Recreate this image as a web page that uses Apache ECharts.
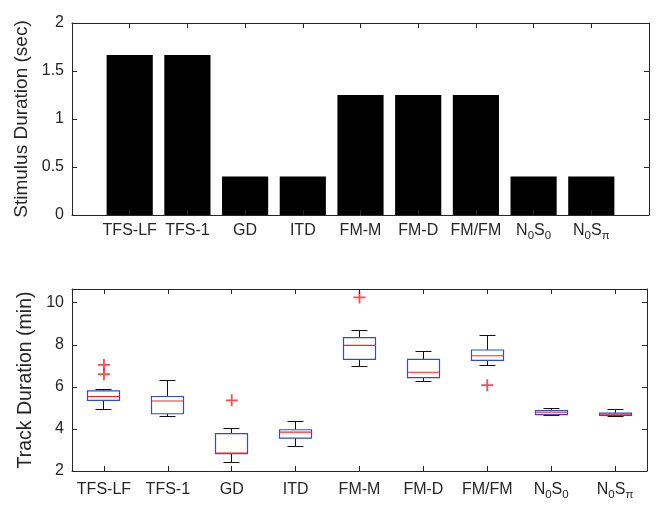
<!DOCTYPE html>
<html>
<head>
<meta charset="utf-8">
<script src="https://cdn.jsdelivr.net/npm/echarts@6/dist/echarts.min.js"></script>
<style>
html,body{margin:0;padding:0;background:#fff;}
#main{width:656px;height:505px;}
</style>
</head>
<body>
<div id="main"></div>
<script>
// ---- data ----
const categories = ['TFS-LF','TFS-1','GD','ITD','FM-M','FM-D','FM/FM','N_0S_0','N_0S_π'];
const stimulusDuration = [1.667,1.667,0.4,0.4,1.25,1.25,1.25,0.4,0.4];
const boxMin    = [4.94,4.60,2.41,3.16,6.96,6.23,7.03,4.65,4.60];
const boxQ1     = [5.36,4.72,2.83,3.56,7.31,6.44,7.26,4.68,4.64];
const boxMedian = [5.54,5.33,2.85,3.85,7.97,6.69,7.48,4.79,4.70];
const boxQ3     = [5.81,5.54,3.78,3.96,8.34,7.31,7.75,4.87,4.75];
const boxMax    = [5.89,6.31,4.03,4.34,8.67,7.69,8.43,4.98,4.92];
const outlierCat   = [0,0,2,4,6];
const outlierValue = [7.04,6.60,5.36,10.25,6.08];
const topYTicks = [0,0.5,1,1.5,2];
const bottomYTicks = [2,4,6,8,10];

const FONT = '"Liberation Sans", Arial, Helvetica, sans-serif';
const AX = '#262626';

function richLabel(label){
  return label.split(/(_.)/).filter(s => s).map(s =>
    s[0] === '_' ? '{s|' + s.slice(1) + '}' : '{n|' + s + '}').join('');
}
const richStyles = {
  n: {fontSize: 16, lineHeight: 18, verticalAlign: 'top', fontFamily: FONT, color: AX},
  s: {fontSize: 11.5, lineHeight: 14, verticalAlign: 'top', padding: [7,0,0,0], fontFamily: FONT, color: AX}
};

const chart = echarts.init(document.getElementById('main'), null, {renderer: 'canvas'});

const barData = stimulusDuration.map((v, i) => [i + 1, v]);
const boxData = categories.map((c, i) => [i, boxMin[i], boxQ1[i], boxMedian[i], boxQ3[i], boxMax[i]]);
const outData = outlierCat.map((c, i) => [c, outlierValue[i]]);

const crisp = v => Math.round(v - 0.5) + 0.5;

const option = {
  animation: false,
  backgroundColor: '#fff',
  grid: [
    {left: 72, right: 7, top: 23, height: 192},
    {left: 72, right: 9, top: 289, height: 182}
  ],
  xAxis: [
    {
      gridIndex: 0, type: 'value', min: 0, max: 10, interval: 1, position: 'bottom', z: 5,
      axisLine: {show: true, onZero: false, lineStyle: {color: AX, width: 1}},
      axisTick: {show: true, inside: true, length: 5, lineStyle: {color: AX}},
      splitLine: {show: false},
      axisLabel: {
        margin: 8, fontSize: 16, fontFamily: FONT, color: AX,
        formatter: v => { const i = Math.round(v) - 1; return (i >= 0 && i < categories.length) ? richLabel(categories[i]) : ''; },
        rich: richStyles
      }
    },
    {
      gridIndex: 0, type: 'value', min: 0, max: 10, interval: 1, position: 'top', z: 5,
      axisLine: {show: true, onZero: false, lineStyle: {color: AX, width: 1}},
      axisTick: {show: true, inside: true, length: 5, lineStyle: {color: AX}},
      splitLine: {show: false}, axisLabel: {show: false}
    },
    {
      gridIndex: 1, type: 'category', data: categories, boundaryGap: true, position: 'bottom', z: 5,
      axisLine: {show: true, onZero: false, lineStyle: {color: AX, width: 1}},
      axisTick: {show: true, inside: true, length: 5, alignWithLabel: true, lineStyle: {color: AX}},
      splitLine: {show: false},
      axisLabel: {margin: 11, fontSize: 16, fontFamily: FONT, color: AX, interval: 0,
        formatter: v => richLabel(v), rich: richStyles}
    },
    {
      gridIndex: 1, type: 'category', data: categories, boundaryGap: true, position: 'top', z: 5,
      axisLine: {show: true, onZero: false, lineStyle: {color: AX, width: 1}},
      axisTick: {show: true, inside: true, length: 5, alignWithLabel: true, lineStyle: {color: AX}},
      splitLine: {show: false}, axisLabel: {show: false}
    }
  ],
  yAxis: [
    {
      gridIndex: 0, type: 'value', min: topYTicks[0], max: topYTicks[topYTicks.length-1], interval: 0.5, position: 'left', z: 5,
      name: 'Stimulus Duration (sec)', nameLocation: 'middle', nameGap: 34,
      nameTextStyle: {fontSize: 19, fontFamily: FONT, color: AX},
      axisLine: {show: true, onZero: false, lineStyle: {color: AX, width: 1}},
      axisTick: {show: true, inside: true, length: 5, lineStyle: {color: AX}},
      splitLine: {show: false},
      axisLabel: {margin: 8, fontSize: 16, fontFamily: FONT, color: AX, formatter: v => String(v)}
    },
    {
      gridIndex: 0, type: 'value', min: topYTicks[0], max: topYTicks[topYTicks.length-1], interval: 0.5, position: 'right', z: 5,
      axisLine: {show: true, onZero: false, lineStyle: {color: AX, width: 1}},
      axisTick: {show: true, inside: true, length: 5, lineStyle: {color: AX}},
      splitLine: {show: false}, axisLabel: {show: false}
    },
    {
      gridIndex: 1, type: 'value', min: bottomYTicks[0], max: 10.65, interval: 2, position: 'left', z: 5,
      name: 'Track Duration (min)', nameLocation: 'middle', nameGap: 30,
      nameTextStyle: {fontSize: 19.5, fontFamily: FONT, color: AX},
      axisLine: {show: true, onZero: false, lineStyle: {color: AX, width: 1}},
      axisTick: {show: true, inside: true, length: 5, lineStyle: {color: AX}},
      splitLine: {show: false},
      axisLabel: {margin: 8, fontSize: 16, fontFamily: FONT, color: AX, showMaxLabel: false,
        formatter: v => bottomYTicks.indexOf(v) >= 0 ? String(v) : ''}
    },
    {
      gridIndex: 1, type: 'value', min: bottomYTicks[0], max: 10.65, interval: 2, position: 'right', z: 5,
      axisLine: {show: true, onZero: false, lineStyle: {color: AX, width: 1}},
      axisTick: {show: true, inside: true, length: 5, lineStyle: {color: AX}},
      splitLine: {show: false}, axisLabel: {show: false}
    }
  ],
  series: [
    {
      type: 'custom', xAxisIndex: 0, yAxisIndex: 0, data: barData,
      encode: {x: 0, y: 1},
      renderItem: (params, api) => {
        const x = api.value(0), v = api.value(1);
        const p1 = api.coord([x - 0.4, v]);
        const p2 = api.coord([x + 0.4, 0]);
        return {type: 'rect', shape: {x: p1[0], y: p1[1], width: p2[0] - p1[0], height: p2[1] - p1[1]},
          style: {fill: '#000'}};
      }
    },
    {
      type: 'custom', xAxisIndex: 2, yAxisIndex: 2, data: boxData,
      encode: {x: 0, y: [1,2,3,4,5]},
      renderItem: (params, api) => {
        const i = api.value(0);
        const bw = api.size([1, 0])[0];
        const pMin = api.coord([i, api.value(1)]);
        const pQ1 = api.coord([i, api.value(2)]);
        const pMed = api.coord([i, api.value(3)]);
        const pQ3 = api.coord([i, api.value(4)]);
        const pMax = api.coord([i, api.value(5)]);
        const cx = crisp(pMin[0]);
        const hb = bw * 0.25, hc = bw * 0.125;
        const black = {stroke: '#111', lineWidth: 1};
        return {type: 'group', children: [
          {type: 'line', shape: {x1: cx, y1: pQ3[1], x2: cx, y2: pMax[1]}, style: black},
          {type: 'line', shape: {x1: cx, y1: pQ1[1], x2: cx, y2: pMin[1]}, style: black},
          {type: 'line', shape: {x1: cx - hc, y1: crisp(pMax[1]), x2: cx + hc, y2: crisp(pMax[1])}, style: black},
          {type: 'line', shape: {x1: cx - hc, y1: crisp(pMin[1]), x2: cx + hc, y2: crisp(pMin[1])}, style: black},
          {type: 'rect', shape: {x: crisp(cx - hb), y: pQ3[1], width: Math.round(2 * hb), height: pQ1[1] - pQ3[1]},
            style: {fill: 'none', stroke: '#2f4fbf', lineWidth: 1.2}},
          {type: 'line', shape: {x1: cx - hb, y1: pMed[1], x2: cx + hb, y2: pMed[1]},
            style: {stroke: '#f02828', lineWidth: 1.1}}
        ]};
      }
    },
    {
      type: 'scatter', xAxisIndex: 2, yAxisIndex: 2, data: outData,
      symbol: 'path://M-1.5,-10 L1.5,-10 L1.5,-1.5 L10,-1.5 L10,1.5 L1.5,1.5 L1.5,10 L-1.5,10 L-1.5,1.5 L-10,1.5 L-10,-1.5 L-1.5,-1.5 Z',
      symbolSize: 12,
      itemStyle: {color: '#f52020'}
    }
  ]
};
chart.setOption(option);
</script>
</body>
</html>
